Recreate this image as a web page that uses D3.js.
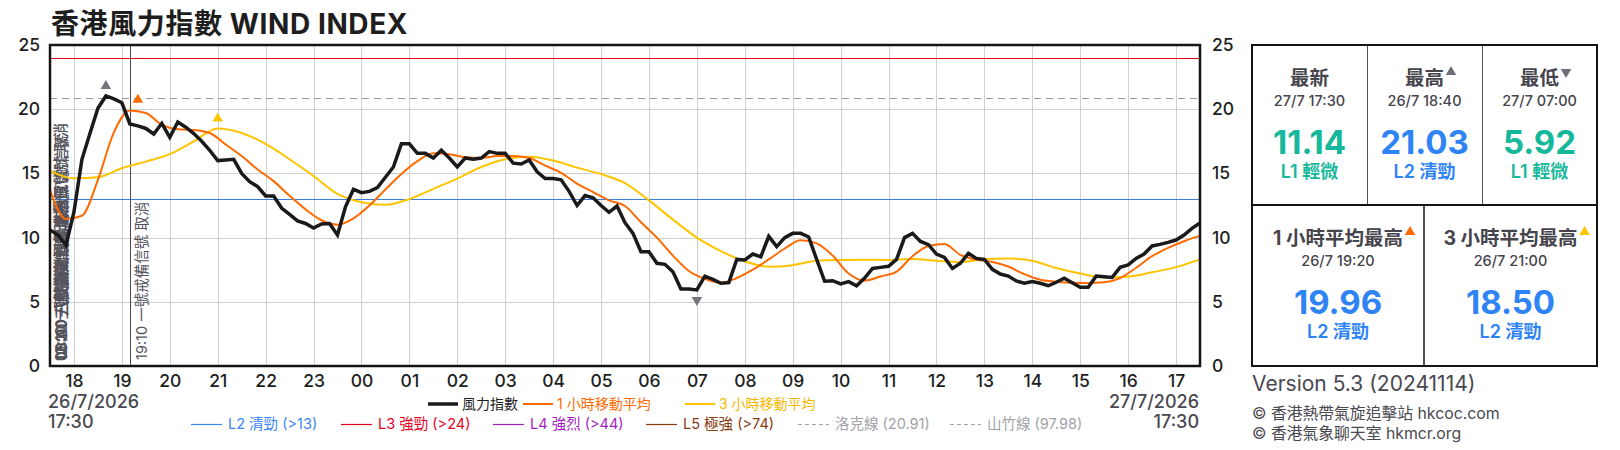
<!DOCTYPE html>
<html>
<head>
<meta charset="utf-8">
<script src="https://cdn.jsdelivr.net/npm/d3@7"></script>
<style>
  body { margin: 0; background: #fff; }
  svg text { font-family: Inter, "Noto Sans CJK TC", sans-serif; }
</style>
</head>
<body>
<svg id="chart" width="1620" height="450"></svg>
<script>
// ---- data ----
var startTime = new Date(2026, 6, 26, 17, 30);
var endTime = new Date(2026, 6, 27, 17, 30);

// wind index, every 10 min from 26/7 17:30
var windIndex = [
  10.6, 10.2, 9.4, 12.0, 16.1, 18.1, 20.07, 21.03, 20.8, 20.5,
  18.85, 18.7, 18.5, 18.07, 18.9, 17.8, 19.0, 18.6, 18.1, 17.5,
  16.8, 16.0, 16.05, 16.1, 15.0, 14.35, 13.97, 13.24, 13.24, 12.3,
  11.8, 11.3, 11.1, 10.75, 11.06, 11.1, 10.2, 12.4, 13.76, 13.5,
  13.6, 13.9, 14.7, 15.5, 17.3, 17.3, 16.56, 16.56, 16.2, 16.8,
  16.2, 15.5, 16.2, 16.1, 16.2, 16.7, 16.56, 16.56, 15.8, 15.73,
  16.04, 15.13, 14.6, 14.6, 14.5, 13.6, 12.5, 13.27, 13.1, 12.5,
  11.97, 12.46, 11.16, 10.33, 8.9, 8.9, 8.0, 7.92, 7.34, 6.0,
  6.0, 5.92, 7.0, 6.75, 6.44, 6.49, 8.3, 8.26, 8.72, 8.5,
  10.1, 9.3, 10.0, 10.33, 10.33, 10.05, 8.3, 6.6, 6.64, 6.4,
  6.57, 6.25, 6.85, 7.6, 7.68, 7.77, 8.3, 10.0, 10.33, 9.7,
  9.45, 8.72, 8.46, 7.6, 8.0, 8.77, 8.38, 8.3, 7.53, 7.16,
  7.0, 6.62, 6.45, 6.57, 6.44, 6.25, 6.52, 6.83, 6.49, 6.13,
  6.13, 7.0, 6.96, 6.9, 7.68, 7.87, 8.38, 8.72, 9.35, 9.47,
  9.63, 9.81, 10.2, 10.72, 11.14
];
// 1 hour moving average, every 20 min
var ma1h = [
  13.7, 11.45, 11.7, 14.5, 18.2, 19.9, 19.7, 18.8, 18.43, 18.38,
  18.15, 17.25, 16.35, 15.3, 14.4, 13.25, 12.2, 11.35, 11.0, 11.5,
  12.5, 13.75, 14.95, 15.95, 16.56, 16.5, 16.25, 16.2, 16.35, 16.35,
  16.2, 15.6, 15.05, 14.2, 13.55, 12.9, 12.46, 11.2, 10.0, 8.6,
  7.4, 6.8, 6.5, 6.85, 7.5, 8.3, 9.15, 9.8, 9.55, 8.6,
  7.2, 6.65, 6.97, 7.35, 8.55, 9.35, 9.5, 8.65, 8.28, 8.1,
  7.75, 7.15, 6.72, 6.57, 6.48, 6.46, 6.52, 6.85, 7.65, 8.55,
  9.2, 9.72, 10.15
];
// 3 hour moving average, every 30 min
var ma3h = [
  15.2, 14.62, 14.7, 15.4, 15.92, 16.5, 17.5, 18.5, 18.15, 17.3,
  16.1, 14.8, 13.4, 12.75, 12.55, 13.0, 13.8, 14.6, 15.5, 16.1,
  16.3, 16.0, 15.45, 14.95, 14.25, 12.9, 11.4, 10.0, 8.95, 8.15,
  7.73, 7.85, 8.2, 8.26, 8.28, 8.26, 8.33, 8.2, 8.1, 8.33,
  8.38, 8.2, 7.63, 7.2, 6.9, 6.96, 7.3, 7.7, 8.3
];

var levelLines = [
  { value: 13, color: "#3b7ddd", dash: null },
  { value: 24, color: "#e6001f", dash: null },
  { value: 20.91, color: "#9a9a9a", dash: "7,5" }
];

var yTicks = [0, 5, 10, 15, 20, 25];

// panel stats: [title, date, value, level, marker]
var statTop = [
  ["最新", "27/7 17:30", "11.14", "L1 輕微", null],
  ["最高", "26/7 18:40", "21.03", "L2 清勁", "up"],
  ["最低", "27/7 07:00", "5.92", "L1 輕微", "down"]
];
var statBottom = [
  ["1 小時平均最高", "26/7 19:20", "19.96", "L2 清勁", "#ff6a00"],
  ["3 小時平均最高", "26/7 21:00", "18.50", "L2 清勁", "#ffc400"]
];
var levelColor = { "L1 輕微": "#16b89b", "L2 清勁": "#2f84f5" };

// peak markers on the chart
var peaks = [
  { t: new Date(2026, 6, 26, 18, 40), v: 21.03, color: "#77737f", dir: "up" },
  { t: new Date(2026, 6, 26, 19, 20), v: 19.96, color: "#ff6a00", dir: "up" },
  { t: new Date(2026, 6, 26, 21, 0), v: 18.5, color: "#ffc400", dir: "up" },
  { t: new Date(2026, 6, 27, 7, 0), v: 5.92, color: "#77737f", dir: "down" }
];

var signalTexts = [
  "06:20 三號強風信號 取代 八號信號",
  "09:40 八號東北烈風或暴風信號 取消",
  "12:20 三號強風信號 發出",
  "10:10 一號戒備信號 改為 三號",
  "06:00 八號烈風或暴風信號"
];

// ---- drawing ----
var svg = d3.select("#chart");
var plotL = 50, plotR = 1200, plotT = 45, plotB = 366;

var x = d3.scaleTime().domain([startTime, endTime]).range([plotL, plotR]);
var y = d3.scaleLinear().domain([0, 25]).range([plotB, plotT]);
function crisp(v) { return Math.round(v) + 0.5; }

function timeAt(step, i) { return new Date(startTime.getTime() + i * step * 60000); }

svg.append("text")
  .attr("x", 51).attr("y", 34)
  .attr("font-size", 28).attr("font-weight", 700).attr("fill", "#1e1e1e")
  .attr("letter-spacing", 0.6)
  .text("香港風力指數 WIND INDEX");

// grid
var hours = d3.timeHour.range(startTime, endTime);
svg.append("g").selectAll("line").data(hours).join("line")
  .attr("x1", d => crisp(x(d))).attr("x2", d => crisp(x(d)))
  .attr("y1", plotT).attr("y2", plotB)
  .attr("stroke", "#d0d0d0").attr("stroke-width", 1);
svg.append("g").selectAll("line").data(yTicks.slice(1, -1)).join("line")
  .attr("x1", plotL).attr("x2", plotR)
  .attr("y1", d => crisp(y(d))).attr("y2", d => crisp(y(d)))
  .attr("stroke", "#d0d0d0").attr("stroke-width", 1);

// level lines
svg.append("g").selectAll("line").data(levelLines).join("line")
  .attr("x1", plotL).attr("x2", plotR)
  .attr("y1", d => crisp(y(d.value))).attr("y2", d => crisp(y(d.value)))
  .attr("stroke", d => d.color).attr("stroke-width", 1.2)
  .attr("stroke-dasharray", d => d.dash);

// signal texts at left edge (overlapping)
var sg = svg.append("g").attr("fill", "#55535c").attr("font-size", 14.5).attr("font-weight", 500);
signalTexts.forEach(function (s, i) {
  sg.append("text")
    .attr("transform", "translate(" + (67 - (i % 2)) + "," + 361 + ") rotate(-90)")
    .text(s);
});

// signal cancelled line
var sigT = new Date(2026, 6, 26, 19, 10);
svg.append("line")
  .attr("x1", crisp(x(sigT))).attr("x2", crisp(x(sigT))).attr("y1", plotT).attr("y2", plotB)
  .attr("stroke", "#4a4a55").attr("stroke-width", 1);
svg.append("text")
  .attr("transform", "translate(" + (x(sigT) + 17) + "," + 360 + ") rotate(-90)")
  .attr("font-size", 14.5).attr("fill", "#55535c")
  .text("19:10 一號戒備信號 取消");

// series
var line = d3.line().x(d => x(d[0])).y(d => y(d[1]));
var curve = d3.line().x(d => x(d[0])).y(d => y(d[1])).curve(d3.curveMonotoneX);

svg.append("path").datum(ma3h.map((v, i) => [timeAt(30, i), v]))
  .attr("d", curve).attr("fill", "none").attr("stroke", "#ffc400").attr("stroke-width", 2);
svg.append("path").datum(ma1h.map((v, i) => [timeAt(20, i), v]))
  .attr("d", curve).attr("fill", "none").attr("stroke", "#ff6a00").attr("stroke-width", 2);
svg.append("path").datum(windIndex.map((v, i) => [timeAt(10, i), v]))
  .attr("d", line).attr("fill", "none").attr("stroke", "#1a1a1a").attr("stroke-width", 3.5)
  .attr("stroke-linejoin", "miter");

// peak markers
svg.append("g").selectAll("path").data(peaks).join("path")
  .attr("d", d3.symbol(d3.symbolTriangle).size(48))
  .attr("fill", d => d.color)
  .attr("transform", d => "translate(" + x(d.t) + "," + (y(d.v) + (d.dir == "up" ? -10 : 10)) + ")" + (d.dir == "up" ? "" : " rotate(180)"));

// frame
svg.append("rect")
  .attr("x", plotL).attr("y", plotT).attr("width", plotR - plotL).attr("height", plotB - plotT)
  .attr("fill", "none").attr("stroke", "#141414").attr("stroke-width", 2.5);

// y axes
[["end", plotL - 10], ["start", plotR + 12]].forEach(function (a) {
  svg.append("g").selectAll("text").data(yTicks).join("text")
    .attr("x", a[1]).attr("y", d => y(d) + 6)
    .attr("text-anchor", a[0]).attr("font-size", 17.5).attr("font-weight", 500).attr("fill", "#1e1e1e")
    .text(d => d);
});

// x axis
var xAxis = svg.append("g").attr("transform", "translate(0," + plotB + ")")
  .call(d3.axisBottom(x).ticks(d3.timeHour.every(1)).tickFormat(d3.timeFormat("%H")).tickSize(0).tickPadding(9));
xAxis.select(".domain").remove();
xAxis.selectAll("text").attr("font-size", 17.5).attr("font-weight", 500).attr("fill", "#1e1e1e")
  .attr("font-family", "Inter, 'Noto Sans CJK TC', sans-serif");

// start / end dates
var dg = svg.append("g").attr("font-size", 18).attr("font-weight", 500).attr("fill", "#4a4850");
dg.append("text").attr("x", 48).attr("y", 408).text("26/7/2026");
dg.append("text").attr("x", 48).attr("y", 428).text("17:30");
dg.append("text").attr("x", 1199).attr("y", 408).attr("text-anchor", "end").text("27/7/2026");
dg.append("text").attr("x", 1199).attr("y", 428).attr("text-anchor", "end").text("17:30");

// legend
var legend1 = [
  { label: "風力指數", color: "#1a1a1a", text: "#1e1e1e", w: 3.5, x: 428 },
  { label: "1 小時移動平均", color: "#ff6a00", text: "#ff6a00", w: 2, x: 523 },
  { label: "3 小時移動平均", color: "#ffc400", text: "#f5b800", w: 2, x: 685 }
];
var legend2 = [
  { label: "L2 清勁 (>13)", color: "#3b86f5", x: 191, dash: null },
  { label: "L3 強勁 (>24)", color: "#e6001f", x: 341, dash: null },
  { label: "L4 強烈 (>44)", color: "#a31fbd", x: 493, dash: null },
  { label: "L5 極強 (>74)", color: "#8a3a12", x: 646, dash: null },
  { label: "洛克線 (20.91)", color: "#a2a2a8", x: 798, dash: "4,3" },
  { label: "山竹線 (97.98)", color: "#a2a2a8", x: 950, dash: "4,3" }
];
var lg1 = svg.append("g").selectAll("g").data(legend1).join("g");
lg1.append("line").attr("x1", d => d.x).attr("x2", d => d.x + 30).attr("y1", 404).attr("y2", 404)
  .attr("stroke", d => d.color).attr("stroke-width", d => d.w);
lg1.append("text").attr("x", d => d.x + 34).attr("y", 409).attr("font-size", 14).attr("fill", d => d.text)
  .text(d => d.label);
var lg2 = svg.append("g").selectAll("g").data(legend2).join("g");
lg2.append("line").attr("x1", d => d.x).attr("x2", d => d.x + 31).attr("y1", 424.5).attr("y2", 424.5)
  .attr("stroke", d => d.color).attr("stroke-width", 1.2).attr("stroke-dasharray", d => d.dash);
lg2.append("text").attr("x", d => d.x + 37).attr("y", 429).attr("font-size", 14.5).attr("fill", d => d.color)
  .text(d => d.label);

// ---- right panel ----
var px0 = 1252, px1 = 1597, py0 = 45, pmid = 205, py1 = 366;
var topCols = [1252, 1367, 1482, 1597];
var botCols = [1252, 1424, 1597];

svg.append("g").selectAll("line").data(topCols.slice(1, 3)).join("line")
  .attr("x1", d => d + 0.5).attr("x2", d => d + 0.5).attr("y1", py0).attr("y2", pmid)
  .attr("stroke", "#4f5560").attr("stroke-width", 1);
svg.append("line").attr("x1", botCols[1]).attr("x2", botCols[1]).attr("y1", pmid).attr("y2", py1)
  .attr("stroke", "#141414").attr("stroke-width", 1.5);
svg.append("line").attr("x1", px0).attr("x2", px1).attr("y1", pmid).attr("y2", pmid)
  .attr("stroke", "#141414").attr("stroke-width", 2);
svg.append("rect").attr("x", px0).attr("y", py0).attr("width", px1 - px0).attr("height", py1 - py0)
  .attr("fill", "none").attr("stroke", "#141414").attr("stroke-width", 2);

function statCell(s, cx, y0) {
  var g = svg.append("g").attr("text-anchor", "middle");
  var t = g.append("text").attr("x", cx).attr("y", y0 + 40).attr("font-size", 19.5).attr("font-weight", 700)
    .attr("fill", "#46444c").text(s[0]);
  if (s[4]) {
    var col = s[4] == "up" || s[4] == "down" ? "#6f6d75" : s[4];
    var w = t.node().getComputedTextLength();
    g.append("path").attr("d", d3.symbol(d3.symbolTriangle).size(48))
      .attr("fill", col)
      .attr("transform", "translate(" + (cx + w / 2 + 7) + "," + (y0 + 27) + ")" + (s[4] == "down" ? " rotate(180)" : ""));
  }
  g.append("text").attr("x", cx).attr("y", y0 + 61).attr("font-size", 14.5).attr("font-weight", 500)
    .attr("fill", "#46444c").text(s[1]);
  g.append("text").attr("x", cx).attr("y", y0 + 109).attr("font-size", 33).attr("font-weight", 700)
    .attr("fill", levelColor[s[3]]).text(s[2]);
  g.append("text").attr("x", cx).attr("y", y0 + 133).attr("font-size", 18).attr("font-weight", 600)
    .attr("fill", levelColor[s[3]]).text(s[3]);
}
statTop.forEach((s, i) => statCell(s, (topCols[i] + topCols[i + 1]) / 2, py0));
statBottom.forEach((s, i) => statCell(s, (botCols[i] + botCols[i + 1]) / 2, pmid));

svg.append("text").attr("x", 1252).attr("y", 391).attr("font-size", 21).attr("fill", "#4a4850")
  .text("Version 5.3 (20241114)");
svg.append("text").attr("x", 1252).attr("y", 419).attr("font-size", 15.8).attr("fill", "#4a4850")
  .text("© 香港熱帶氣旋追擊站 hkcoc.com");
svg.append("text").attr("x", 1252).attr("y", 439).attr("font-size", 15.8).attr("fill", "#4a4850")
  .text("© 香港氣象聊天室 hkmcr.org");
</script>
</body>
</html>
